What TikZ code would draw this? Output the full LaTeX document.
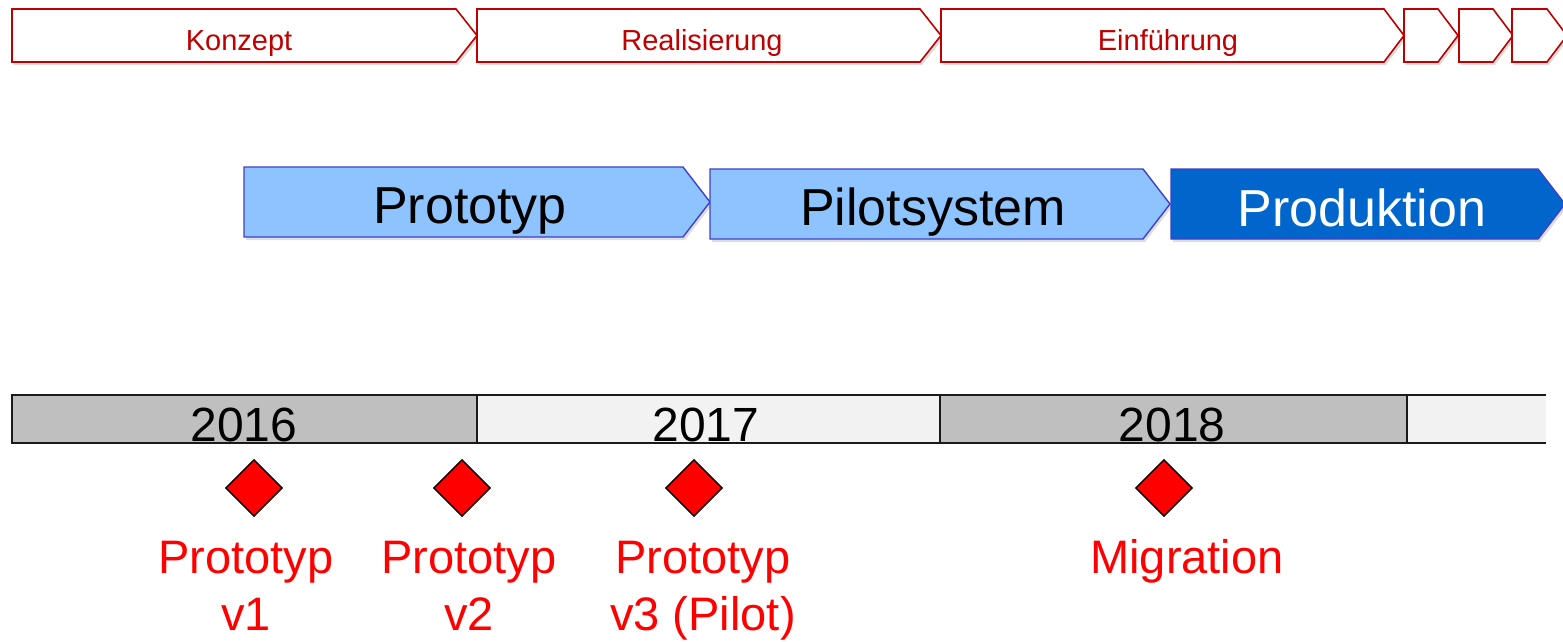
\documentclass[tikz,border=0pt]{standalone}
\usepackage{fontspec}
\setmainfont{Liberation Sans}
\usetikzlibrary{shapes.geometric,shadows}
\definecolor{cred}{HTML}{C00000}
\definecolor{lblue}{HTML}{8DC4FF}
\definecolor{dblue}{HTML}{0066CC}
\definecolor{bborder}{HTML}{3F3FCC}
\definecolor{ygray}{HTML}{BFBFBF}
\definecolor{ylight}{HTML}{F2F2F2}
\definecolor{mred}{HTML}{FF0000}
\definecolor{yline}{HTML}{1A1A1A}
\newcommand\mkchev[6]{\path[#1] (#2,#5) -- (#3,#5) -- (#4,{(#5+#6)/2}) -- (#3,#6) -- (#2,#6) -- cycle;}
\begin{document}
\begin{tikzpicture}[x=1pt,y=-1pt,
  shadowed/.style={drop shadow={shadow xshift=2pt,shadow yshift=-3pt,opacity=0.22,fill=black!60}},
  topchev/.style={draw=cred,line width=1.6pt,fill=white,shadowed},
  lightchev/.style={draw=bborder,line width=1.4pt,fill=lblue,shadowed},
  darkchev/.style={draw=bborder,line width=1.4pt,fill=dblue,shadowed},
  toptext/.style={text=cred,font=\fontsize{29}{29}\selectfont,inner sep=0pt,anchor=base},
  phasetext/.style={font=\fontsize{52}{52}\selectfont,inner sep=0pt,anchor=base},
  yeartext/.style={text=black,font=\fontsize{48}{48}\selectfont,inner sep=0pt,anchor=base},
  milestone/.style={diamond,aspect=1,draw=black,line width=1.4pt,fill=mred,inner sep=0pt,minimum width=57pt,minimum height=57pt},
  mslabel/.style={text=mred,font=\fontsize{47}{47}\selectfont,inner sep=0pt,anchor=base},
  yearline/.style={draw=yline,line width=1.5pt}
]
\useasboundingbox (0,0) rectangle (1563,641);
\clip (0,0) rectangle (1563,641);

% top phase chevrons
\mkchev{topchev}{12}{456}{477}{9}{62}
\mkchev{topchev}{477}{920}{941}{9}{62}
\mkchev{topchev}{941}{1384}{1404}{9}{62}
\mkchev{topchev}{1404}{1438}{1458}{9}{62}
\mkchev{topchev}{1459}{1493}{1513}{9}{62}
\mkchev{topchev}{1512}{1547}{1567}{9}{62}
\node[toptext] (tK) at (239,50) {Konzept};
\node[toptext] (tR) at (702,50) {Realisierung};
\node[toptext] (tE) at (1168,50) {Einführung};

% blue phase chevrons
\mkchev{lightchev}{244}{683}{710}{167}{237}
\mkchev{lightchev}{710}{1143}{1170}{169}{239}
\mkchev{darkchev}{1171}{1538}{1565}{169}{239}
\node[phasetext,text=black] (pP) at (470,223) {Prototyp};
\node[phasetext,text=black] (pS) at (933,225) {Pilotsystem};
\node[phasetext,text=white] (pD) at (1362,226) {Produktion};

% timeline
\fill[ygray] (12,395) rectangle (477,443);
\fill[ylight] (477,395) rectangle (940,443);
\fill[ygray] (940,395) rectangle (1407,443);
\fill[ylight] (1407,395) rectangle (1546,443);
\draw[yearline] (1546,395) -- (12,395) -- (12,443);
\draw[yearline,line width=2.2pt] (11.25,443) -- (1546,443);
\draw[yearline] (477,395) -- (477,443);
\draw[yearline] (940,395) -- (940,443);
\draw[yearline] (1407,395) -- (1407,443);
\node[yeartext] (y16) at (244,441) {2016};
\node[yeartext] (y17) at (706,441) {2017};
\node[yeartext] (y18) at (1172,441) {2018};

% milestones
\node[milestone] (m1) at (254,488) {};
\node[milestone] (m2) at (462,488) {};
\node[milestone] (m3) at (694,488) {};
\node[milestone] (m4) at (1164,488) {};
\node[mslabel] (l1a) at (246,573) {Prototyp};
\node[mslabel] (l1b) at (246,630) {v1};
\node[mslabel] (l2a) at (469,573) {Prototyp};
\node[mslabel] (l2b) at (469,630) {v2};
\node[mslabel] (l3a) at (703,573) {Prototyp};
\node[mslabel] (l3b) at (703,630) {v3 (Pilot)};
\node[mslabel] (l4a) at (1187,573) {Migration};
\end{tikzpicture}
\end{document}
